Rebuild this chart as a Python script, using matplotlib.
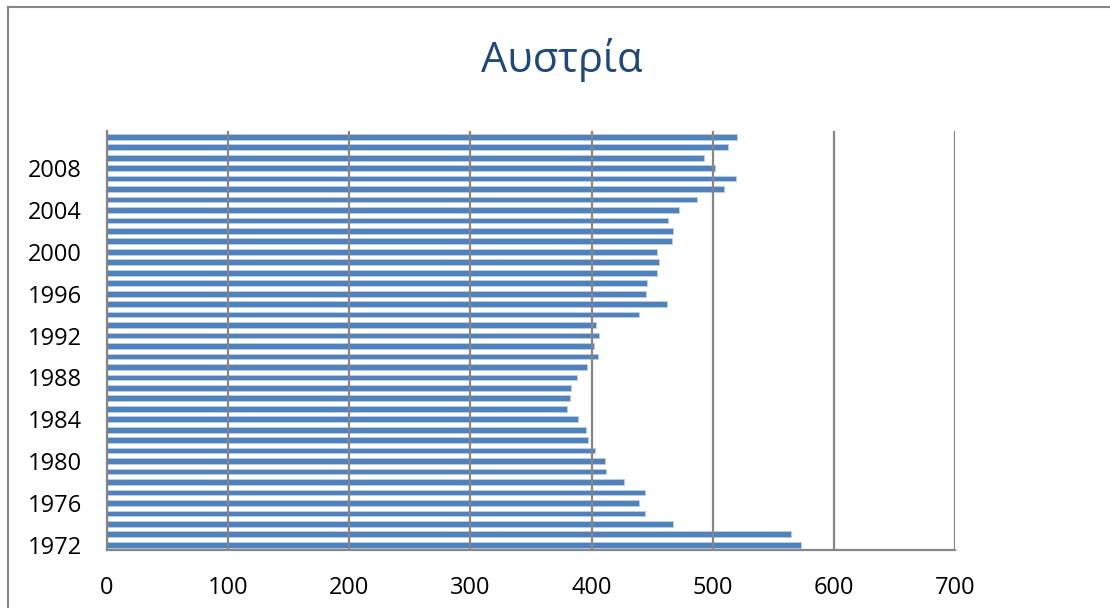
import matplotlib.pyplot as plt
from matplotlib.lines import Line2D

plt.rcParams['font.family'] = ['Open Sans', 'DejaVu Sans']

# Yearly values, 1972 to 2011
years = list(range(1972, 2012))
values = [573, 565, 467, 444, 439, 444, 427, 412, 411, 403,
          397, 395, 389, 380, 382, 383, 388, 396, 405, 402,
          406, 404, 439, 462, 445, 446, 454, 456, 454, 466,
          467, 463, 472, 487, 509, 519, 502, 493, 513, 520]

year_ticks = list(range(1972, 2009, 4))
value_ticks = list(range(0, 701, 100))

bar_color = "#4F81BD"
grid_color = "#868686"

fig = plt.figure(figsize=(11.1, 6.08), dpi=100)
ax = fig.add_axes([107 / 1110, 1 - 550 / 608, 848 / 1110, 419 / 608])

ax.barh(years, values, height=0.55, color=bar_color,
        edgecolor="#B9CDE5", linewidth=0.7, zorder=2)

ax.set_xlim(0, 700)
ax.set_ylim(1971.5, 2011.55)
ax.set_xticks(value_ticks)
ax.set_yticks(year_ticks)
ax.tick_params(axis="both", length=0, labelsize=17, colors="black")
ax.tick_params(axis="y", pad=18)
ax.tick_params(axis="x", pad=19)

# gridlines sit over the bars
ax.set_axisbelow(False)
ax.grid(axis="x", color=grid_color, linewidth=1.6)
for side in ["top", "right"]:
    ax.spines[side].set_visible(False)
for side in ["left", "bottom"]:
    ax.spines[side].set_color(grid_color)
    ax.spines[side].set_linewidth(1.6)

fig.text(562 / 1110, 1 - 60 / 608, "Αυστρία", ha="center", va="center",
         fontsize=30, color="#1F497D")

# chart area frame (left and top edges)
fig.add_artist(Line2D([8 / 1110, 8 / 1110], [0, 1 - 7 / 608],
                      transform=fig.transFigure, color=grid_color, linewidth=1.5))
fig.add_artist(Line2D([8 / 1110, 1], [1 - 7 / 608, 1 - 7 / 608],
                      transform=fig.transFigure, color=grid_color, linewidth=1.5))

plt.savefig("out.png", dpi=100)
